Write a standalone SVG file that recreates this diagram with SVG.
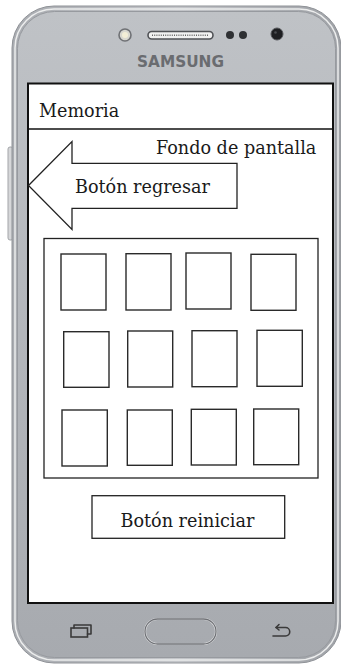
<svg xmlns="http://www.w3.org/2000/svg" width="341" height="666" viewBox="0 0 341 666">
<defs>
<linearGradient id="face" x1="0" y1="0" x2="0" y2="1">
<stop offset="0" stop-color="#bfc2c6"/>
<stop offset="0.5" stop-color="#b3b6bb"/>
<stop offset="1" stop-color="#a7aaaf"/>
</linearGradient>
<linearGradient id="rimg" x1="0" y1="0" x2="1" y2="0">
<stop offset="0" stop-color="#a9acb1"/>
<stop offset="0.5" stop-color="#c4c6ca"/>
<stop offset="1" stop-color="#9fa2a7"/>
</linearGradient>
<style>
.lbl{font-family:"DejaVu Serif","Liberation Serif",serif;font-size:17.6px;fill:#1a1a1a}
.box{fill:#fff;stroke:#222;stroke-width:1.3}
.card{fill:#fff;stroke:#2a2a2a;stroke-width:1.4}
.icon{fill:none;stroke:#3a3a3a;stroke-width:1.6;stroke-linecap:round;stroke-linejoin:round}
</style>
</defs>
<rect width="341" height="666" fill="#fff"/>
<g id="phone">
<rect x="8" y="147" width="5" height="93" rx="2" fill="#d6d7d9" stroke="#a3a5a9" stroke-width="1"/>
<rect x="12" y="6" width="329" height="657" rx="42" fill="url(#rimg)" stroke="#8f9297" stroke-width="1"/>
<rect x="15" y="9" width="323" height="651" rx="39" fill="none" stroke="#eceded" stroke-width="1.5"/>
<rect x="17.5" y="11.5" width="318" height="646" rx="37" fill="url(#face)" stroke="#979a9f" stroke-width="1"/>
<circle cx="125" cy="35" r="6" fill="#d9d8d0" stroke="#6f7175" stroke-width="1.6"/>
<circle cx="125" cy="35" r="3" fill="#f3eed6"/>
<rect x="148" y="31.5" width="65" height="7.5" rx="3.7" fill="#f1f1f1" stroke="#505256" stroke-width="1.6"/>
<line x1="152" y1="35.2" x2="209" y2="35.2" stroke="#666" stroke-width="1.6" stroke-dasharray="1 1.2"/>
<circle cx="230" cy="35" r="4" fill="#2e3033"/>
<circle cx="243" cy="35" r="4" fill="#2e3033"/>
<circle cx="277" cy="34" r="6" fill="#1e1f22" stroke="#55575b" stroke-width="1"/>
<circle cx="275.5" cy="32.5" r="1.3" fill="#4a4c50"/>
<text x="137" y="66.5" font-family="'DejaVu Sans','Liberation Sans',sans-serif" font-weight="bold" font-size="15.5" fill="#6a6c70" textLength="87" lengthAdjust="spacingAndGlyphs">SAMSUNG</text>
<path class="icon" d="M74 628 V625 H91 V634 H87.5"/>
<rect x="71" y="628" width="16.5" height="9" fill="none" stroke="#3a3a3a" stroke-width="1.6"/>
<rect x="145" y="619" width="71" height="25" rx="12.5" fill="none" stroke="#e8e9ea" stroke-width="2.2"/>
<rect x="145" y="619" width="71" height="25" rx="12.5" fill="none" stroke="#6e7075" stroke-width="1.3"/>
<path class="icon" d="M276 627.5 H285.5 A4.2 4.2 0 0 1 285.5 636 H273"/>
<path class="icon" d="M279 624.5 L276 627.5 L279 630"/>
</g>
<g id="screen">
<rect x="28" y="83.5" width="305" height="519.5" fill="#fff" stroke="#111" stroke-width="2"/>
</g>
<g id="header">
<line x1="28" y1="129" x2="333" y2="129" stroke="#111" stroke-width="1.6"/>
<text class="lbl" x="39" y="117">Memoria</text>
</g>
<g id="fondo">
<text class="lbl" x="156" y="154">Fondo de pantalla</text>
</g>
<g id="boton-regresar">
<polygon class="box" points="28.5,185.5 72,141.5 72,163.3 237,163.3 237,208.3 72,208.3 72,229.5"/>
<text class="lbl" x="75" y="193">Botón regresar</text>
</g>
<g id="grid">
<rect class="box" x="44" y="238.5" width="274" height="239.5"/>
<rect class="card" x="61" y="254" width="45" height="56"/>
<rect class="card" x="126" y="253.7" width="45" height="56.3"/>
<rect class="card" x="186" y="253" width="45" height="56"/>
<rect class="card" x="251" y="254.3" width="45" height="56"/>
<rect class="card" x="63.7" y="331.7" width="45.3" height="55.6"/>
<rect class="card" x="127.7" y="331" width="45" height="56"/>
<rect class="card" x="192" y="330.7" width="45" height="56"/>
<rect class="card" x="257" y="330.3" width="45.3" height="56"/>
<rect class="card" x="62" y="410" width="45.3" height="56"/>
<rect class="card" x="127.3" y="410" width="45" height="55.3"/>
<rect class="card" x="191.3" y="409.3" width="45" height="55.7"/>
<rect class="card" x="253.7" y="409" width="45" height="55.7"/>
</g>
<g id="boton-reiniciar">
<rect class="box" x="92" y="495.7" width="192.7" height="42.6"/>
<text class="lbl" x="120.5" y="527">Botón reiniciar</text>
</g>
<g id="connectors"/>
</svg>
